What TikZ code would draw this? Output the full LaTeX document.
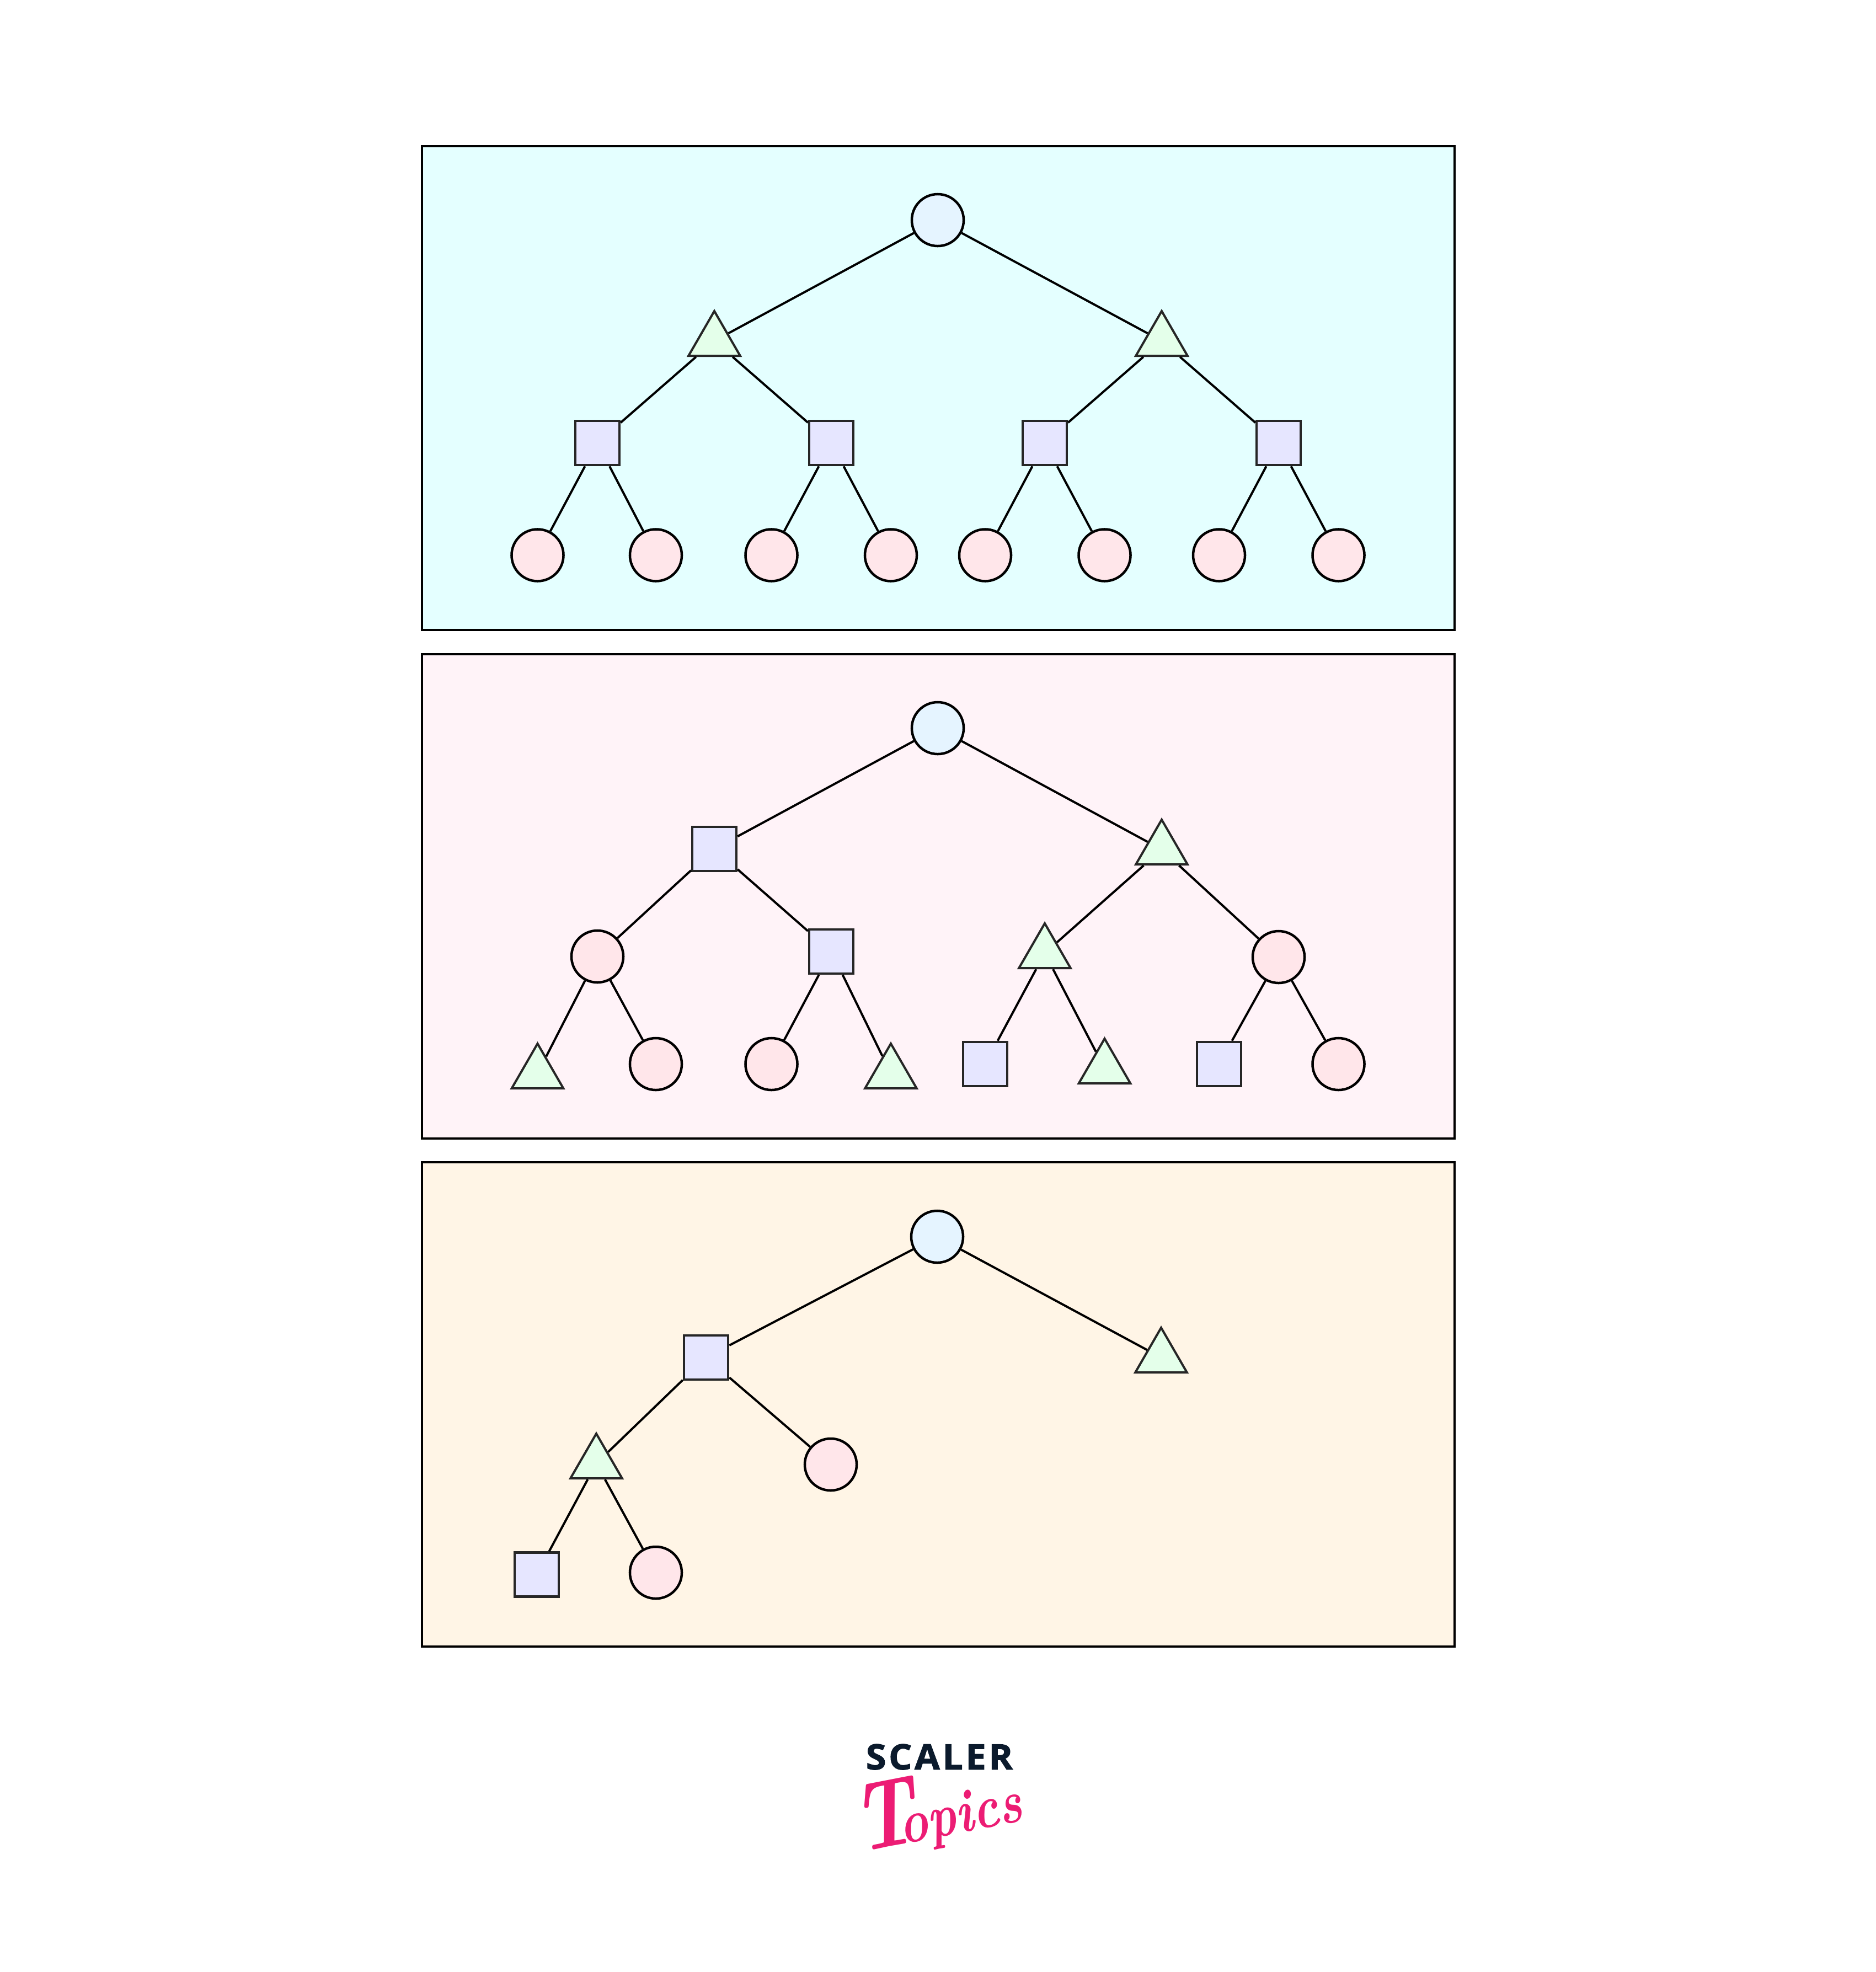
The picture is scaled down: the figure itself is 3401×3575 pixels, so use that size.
\documentclass[tikz,border=0pt]{standalone}
\usepackage{fontspec}
\usepackage{graphicx}
\usetikzlibrary{shapes.geometric}
\newfontfamily\logofont{Open Sans}[FakeBold=1.6]
\definecolor{panelA}{HTML}{E4FFFF}
\definecolor{panelB}{HTML}{FFF3F8}
\definecolor{panelC}{HTML}{FFF5E6}
\definecolor{rootfill}{HTML}{E5F4FF}
\definecolor{trifill}{HTML}{E4FFEA}
\definecolor{sqfill}{HTML}{E6E6FF}
\definecolor{cirfill}{HTML}{FFE6EA}
\definecolor{logonavy}{HTML}{0B1A2C}
\definecolor{logopink}{HTML}{EC1C74}
\tikzset{
  x=0.01cm,y=-0.01cm,
  panel/.style={draw=black,line width=0.04cm,minimum width=18.71cm,inner sep=0pt,outer sep=0pt},
  rootn/.style={circle,draw=black,fill=rootfill,line width=0.045cm,minimum size=0.94cm,inner sep=0pt},
  cir/.style={circle,draw=black,fill=cirfill,line width=0.045cm,minimum size=0.94cm,inner sep=0pt},
  sq/.style={rectangle,draw=black!85,fill=sqfill,line width=0.045cm,minimum size=0.80cm,inner sep=0pt},
  tri/.style={regular polygon,regular polygon sides=3,draw=black!85,fill=trifill,line width=0.04cm,minimum size=1.08cm,inner sep=0pt},
  edge/.style={draw=black,line width=0.04cm},
}
\begin{document}
\begin{tikzpicture}
\useasboundingbox[fill=white] (0,0) rectangle (3401,3575);
% panels
\node[panel,fill=panelA,minimum height=8.77cm] (p1) at (1701,703.5) {};
\node[panel,fill=panelB,minimum height=8.78cm] (p2) at (1701,1625) {};
\node[panel,fill=panelC,minimum height=8.78cm] (p3) at (1701,2546) {};
% tree 1
\node[rootn] (a) at (1700,399) {};
\node[tri] (a1) at (1295,618) {};
\node[tri] (a2) at (2106,618) {};
\node[sq] (a11) at (1083,803) {};
\node[sq] (a12) at (1507,803) {};
\node[sq] (a21) at (1894,803) {};
\node[sq] (a22) at (2318,803) {};
\node[cir] (a111) at (974.5,1006.5) {};
\node[cir] (a112) at (1189,1006.5) {};
\node[cir] (a121) at (1398.5,1006.5) {};
\node[cir] (a122) at (1615,1006.5) {};
\node[cir] (a211) at (1786,1006.5) {};
\node[cir] (a212) at (2002.5,1006.5) {};
\node[cir] (a221) at (2210,1006.5) {};
\node[cir] (a222) at (2426.5,1006.5) {};
\draw[edge] (a)--(a1) (a)--(a2) (a1)--(a11) (a1)--(a12) (a2)--(a21) (a2)--(a22)
  (a11)--(a111) (a11)--(a112) (a12)--(a121) (a12)--(a122)
  (a21)--(a211) (a21)--(a212) (a22)--(a221) (a22)--(a222);
% tree 2
\node[rootn] (b) at (1700,1320) {};
\node[sq] (b1) at (1295,1539) {};
\node[tri] (b2) at (2106,1540) {};
\node[cir] (b11) at (1083,1734) {};
\node[sq] (b12) at (1507,1725) {};
\node[tri] (b21) at (1894,1728) {};
\node[cir] (b22) at (2318,1735) {};
\node[tri] (b111) at (974.5,1946) {};
\node[cir] (b112) at (1189,1929) {};
\node[cir] (b121) at (1398.5,1929) {};
\node[tri] (b122) at (1615,1946) {};
\node[sq] (b211) at (1786,1929) {};
\node[tri] (b212) at (2002.5,1937) {};
\node[sq] (b221) at (2210,1929) {};
\node[cir] (b222) at (2426.5,1929) {};
\draw[edge] (b)--(b1) (b)--(b2) (b1)--(b11) (b1)--(b12) (b2)--(b21) (b2)--(b22)
  (b11)--(b111) (b11)--(b112) (b12)--(b121) (b12)--(b122)
  (b21)--(b211) (b21)--(b212) (b22)--(b221) (b22)--(b222);
% tree 3
\node[rootn] (c) at (1699,2242) {};
\node[sq] (c1) at (1280,2461) {};
\node[tri] (c2) at (2105,2461) {};
\node[tri] (c11) at (1081,2653) {};
\node[cir] (c12) at (1506,2655) {};
\node[sq] (c111) at (973,2854.5) {};
\node[cir] (c112) at (1189,2851) {};
\draw[edge] (c)--(c1) (c)--(c2) (c1)--(c11) (c1)--(c12) (c11)--(c111) (c11)--(c112);
% logo
\node[inner sep=0pt,text=logonavy] (scaler) at (1703,3185) {\resizebox{2.66cm}{0.46cm}{\logofont\bfseries S\kern.07em C\kern.07em A\kern.07em L\kern.07em E\kern.07em R}};
\node[inner sep=0pt,text=logopink,rotate=11] (topics) at (1698,3282) {\bfseries\itshape\scalebox{.8}[1]{\fontsize{50}{50}\selectfont T}\kern-9pt\scalebox{1}[1.25]{\fontsize{25}{25}\selectfont opics}};
\end{tikzpicture}
\end{document}
